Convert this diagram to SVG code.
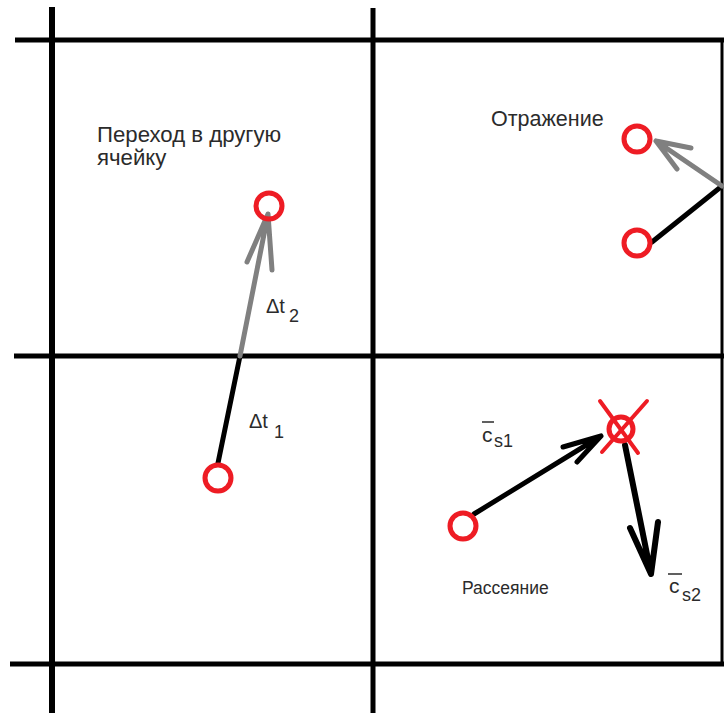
<svg xmlns="http://www.w3.org/2000/svg" width="724" height="713" viewBox="0 0 724 713">
<style>
.grid{stroke:#000;stroke-width:5;fill:none;stroke-linecap:butt}
.blk{stroke:#000;stroke-width:5;fill:none;stroke-linecap:round;stroke-linejoin:round}
.gry{stroke:#808080;stroke-width:5;fill:none;stroke-linecap:round;stroke-linejoin:round}
.pt{stroke:#ee1c24;stroke-width:5;fill:none}
.cross{stroke:#ee1c24;stroke-width:4;stroke-linecap:round}
.lbl{font-family:"Liberation Sans",Arial,sans-serif;fill:#2b2b2b}
.ov{stroke:#2b2b2b;stroke-width:1.5}
</style>
<rect width="724" height="713" fill="#fff"/>
<g id="grid">
<line class="grid" x1="52" y1="7" x2="52" y2="713" style="stroke-width:6"/>
<line class="grid" x1="373" y1="8" x2="373" y2="713"/>
<line class="grid" x1="722" y1="40" x2="722" y2="664" style="stroke-width:3"/>
<line class="grid" x1="15" y1="40" x2="724" y2="40"/>
<line class="grid" x1="14" y1="356" x2="724" y2="356"/>
<line class="grid" x1="10" y1="664" x2="724" y2="664"/>
</g>
<g id="connectors">
<line class="blk" x1="218" y1="463" x2="240" y2="356"/>
<path class="gry" d="M240 356 L268 214 M247 262 L268 214 L272 270"/>
<line class="blk" x1="652" y1="242" x2="722" y2="186"/>
<path class="gry" d="M722 186 L656 141 M691 148 L656 141 L677 169"/>
<path class="blk" d="M474 514 L601 436 M563 447 L601 436 L577 462"/>
<path class="blk" style="stroke-width:6" d="M625 445 L651 574 M630 528 L651 574 L658 522"/>
</g>
<g id="node-transfer">
<circle class="pt" cx="218" cy="478" r="13"/>
<circle class="pt" cx="269" cy="206" r="13"/>
<text class="lbl" x="97" y="142" font-size="22.2">Переход в другую</text>
<text class="lbl" x="97" y="165" font-size="22.2">ячейку</text>
<text class="lbl" x="249" y="428" font-size="20">Δt</text>
<text class="lbl" x="274" y="438" font-size="18">1</text>
<text class="lbl" x="266" y="313" font-size="20">Δt</text>
<text class="lbl" x="289" y="322" font-size="18">2</text>
</g>
<g id="node-reflection">
<circle class="pt" cx="637" cy="139" r="13"/>
<circle class="pt" cx="637" cy="243" r="13"/>
<text class="lbl" x="491" y="126" font-size="21.5">Отражение</text>
</g>
<g id="node-scattering">
<circle class="pt" cx="463" cy="526" r="13"/>
<circle class="pt" cx="621" cy="429" r="12"/>
<line class="cross" x1="600" y1="401" x2="638" y2="453"/>
<line class="cross" x1="647" y1="401" x2="602" y2="452"/>
<text class="lbl" x="462" y="594" font-size="17.5">Рассеяние</text>
<line class="ov" x1="482" y1="422" x2="494" y2="422"/>
<text class="lbl" x="482" y="442" font-size="21">c</text>
<text class="lbl" x="494" y="447" font-size="18">s1</text>
<line class="ov" x1="668" y1="574" x2="682" y2="574"/>
<text class="lbl" x="669" y="593" font-size="21">c</text>
<text class="lbl" x="682" y="601" font-size="18">s2</text>
</g>
</svg>
